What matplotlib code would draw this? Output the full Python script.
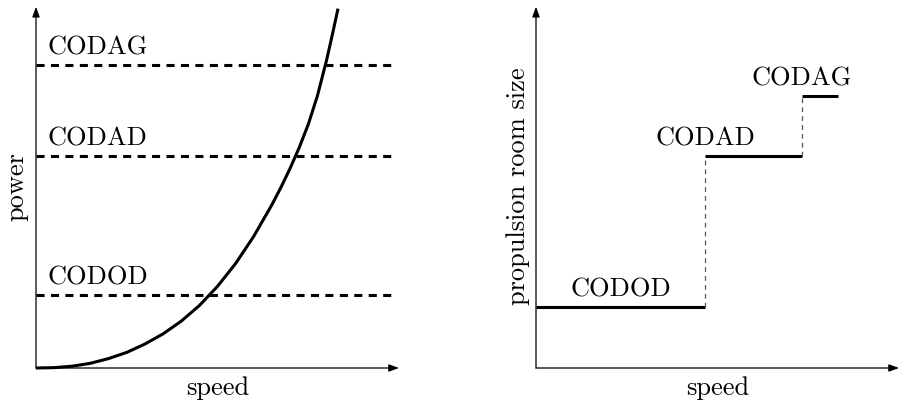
import matplotlib
matplotlib.use("Agg")
from matplotlib import pyplot as plt

plt.rcParams['font.family'] = 'serif'
plt.rcParams['font.serif'] = ['cmr10', 'DejaVu Serif']
plt.rcParams['axes.unicode_minus'] = False
plt.rcParams['lines.scale_dashes'] = False

# left: power curve (speed, power)
speed = [0, 0.5, 1.0, 1.5, 2.0, 2.5, 3.0, 3.5, 4.0, 4.5, 5.0, 5.5, 6.0,
         6.5, 6.75, 7.0, 7.25, 7.5, 7.75, 8.0, 8.15, 8.32]
power = [0, 0.01, 0.05, 0.13, 0.26, 0.43, 0.66, 0.94, 1.29, 1.72, 2.25,
         2.88, 3.63, 4.50, 4.98, 5.50, 6.07, 6.71, 7.49, 8.46, 9.12, 9.90]

systems = ["CODOD", "CODAD", "CODAG"]
power_levels = [2.01, 5.84, 8.35]
level_end = 9.92

# right: room size steps
room_size = [1.68, 5.84, 7.49]
step_edges = [0, 4.66, 7.33, 8.32]

FS = 19

fig = plt.figure(figsize=(8.98, 4.04), dpi=100)
ax1 = fig.add_axes([36 / 898, 36 / 404, 363 / 898, 363 / 404])
ax2 = fig.add_axes([536 / 898, 36 / 404, 363 / 898, 363 / 404])

for ax in (ax1, ax2):
    ax.set_xlim(0, 10)
    ax.set_ylim(0, 10)
    ax.axis("off")
    arrow = dict(arrowstyle="-|>,head_length=0.6,head_width=0.22",
                 lw=0.9, color="black", mutation_scale=10,
                 shrinkA=0, shrinkB=0)
    ax.annotate("", xy=(10, 0), xytext=(0, 0), arrowprops=arrow,
                annotation_clip=False)
    ax.annotate("", xy=(0, 9.95), xytext=(0, 0), arrowprops=arrow,
                annotation_clip=False)
    ax.text(5, -0.55, "speed", ha="center", va="center", fontsize=FS)

# left panel
for name, lvl in zip(systems, power_levels):
    ax1.plot([0, level_end], [lvl, lvl], color="black", lw=2.2,
             dashes=(5.8, 4.6), clip_on=False)
    ax1.annotate(name, xy=(0.33, lvl), xytext=(0, 7.3),
                 textcoords="offset points", ha="left", va="baseline",
                 fontsize=FS)
ax1.plot(speed, power, color="black", lw=2.2, clip_on=False,
         solid_capstyle="butt", solid_joinstyle="round")
ax1.text(-0.53, 5, "power", rotation=90, ha="center", va="center",
         fontsize=FS)

# right panel
for i, name in enumerate(systems):
    x0, x1 = step_edges[i], step_edges[i + 1]
    ax2.plot([x0, x1], [room_size[i], room_size[i]], color="black", lw=2.2,
             clip_on=False, solid_capstyle="butt")
    if i > 0:
        ax2.plot([x0, x0], [room_size[i - 1], room_size[i]], color="#555555",
                 lw=0.9, dashes=(3.4, 3.0), clip_on=False)
    cx = (x0 + x1) / 2 if i == 0 else x0
    ax2.annotate(name, xy=(cx, room_size[i]), xytext=(0, 7.3),
                 textcoords="offset points", ha="center", va="baseline",
                 fontsize=FS)
ax2.text(-0.5, 5, "propulsion room size", rotation=90, ha="center",
         va="center", fontsize=FS)

fig.savefig("out.png", dpi=100)
